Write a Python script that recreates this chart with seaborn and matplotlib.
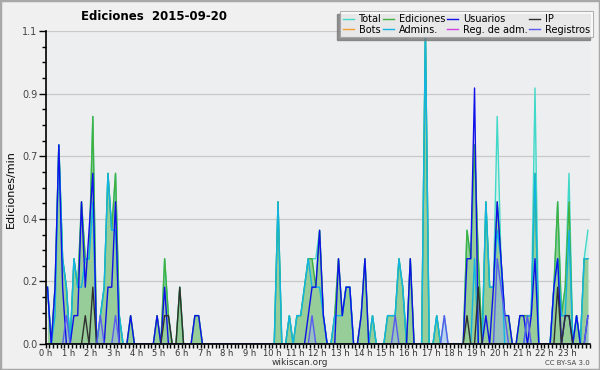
import numpy as np
import pandas as pd
import matplotlib
matplotlib.use('Agg')
import matplotlib.pyplot as plt
from matplotlib.ticker import MultipleLocator, FixedLocator
from matplotlib.patches import Rectangle
from matplotlib.lines import Line2D
import seaborn as sns

# edits per minute, one value per 10-minute slot (6 per hour), 4 hours per line
total = [
    0.2, 0, 0.2, 0.7, 0.3, 0.2, 0, 0.3, 0.2, 0.5, 0.3, 0.3, 0.8, 0, 0.1, 0.2, 0.6, 0.4, 0.6, 0.1, 0, 0, 0.1, 0,
    0, 0, 0, 0, 0, 0.1, 0, 0.3, 0.1, 0, 0, 0.2, 0, 0, 0, 0.1, 0.1, 0, 0, 0, 0, 0, 0, 0,
    0, 0, 0, 0, 0, 0, 0, 0, 0, 0, 0, 0, 0, 0.5, 0, 0, 0.1, 0, 0.1, 0.1, 0.2, 0.3, 0.3, 0.3,
    0.4, 0.1, 0, 0, 0.1, 0.3, 0.1, 0.2, 0.2, 0, 0, 0.1, 0.3, 0, 0.1, 0, 0, 0, 0.1, 0.1, 0.1, 0.3, 0.2, 0,
    0.3, 0, 0, 0, 1.1, 0, 0, 0.1, 0, 0.1, 0, 0, 0, 0, 0, 0.4, 0.3, 0.7, 0.3, 0, 0.5, 0.2, 0.2, 0.8,
    0.3, 0.1, 0.1, 0, 0, 0.1, 0.1, 0.1, 0.1, 0.9, 0, 0, 0, 0, 0.2, 0.5, 0.1, 0.2, 0.6, 0, 0.1, 0, 0.3, 0.4,
]
ediciones = [
    0.2, 0, 0.2, 0.7, 0.3, 0.2, 0, 0.3, 0.2, 0.5, 0.3, 0.3, 0.8, 0, 0.1, 0.2, 0.6, 0.4, 0.6, 0.1, 0, 0, 0.1, 0,
    0, 0, 0, 0, 0, 0.1, 0, 0.3, 0.1, 0, 0, 0.2, 0, 0, 0, 0.1, 0.1, 0, 0, 0, 0, 0, 0, 0,
    0, 0, 0, 0, 0, 0, 0, 0, 0, 0, 0, 0, 0, 0.5, 0, 0, 0.1, 0, 0.1, 0.1, 0.2, 0.3, 0.3, 0.2,
    0.4, 0.1, 0, 0, 0.1, 0.3, 0.1, 0.2, 0.2, 0, 0, 0.1, 0.3, 0, 0.1, 0, 0, 0, 0.1, 0.1, 0.1, 0.3, 0.2, 0,
    0.3, 0, 0, 0, 1.1, 0, 0, 0.1, 0, 0, 0, 0, 0, 0, 0, 0.4, 0.3, 0.7, 0.3, 0, 0.5, 0.2, 0.2, 0.5,
    0.3, 0.1, 0.1, 0, 0, 0.1, 0.1, 0.1, 0.1, 0.6, 0, 0, 0, 0, 0.2, 0.5, 0.1, 0.2, 0.5, 0, 0.1, 0, 0.3, 0.3,
]
usuarios = [
    0.2, 0, 0.2, 0.7, 0.2, 0, 0, 0.1, 0.1, 0.5, 0.2, 0.4, 0.6, 0, 0, 0, 0.2, 0.2, 0.5, 0, 0, 0, 0.1, 0,
    0, 0, 0, 0, 0, 0.1, 0, 0.2, 0, 0, 0, 0, 0, 0, 0, 0.1, 0.1, 0, 0, 0, 0, 0, 0, 0,
    0, 0, 0, 0, 0, 0, 0, 0, 0, 0, 0, 0, 0, 0, 0, 0, 0, 0, 0, 0, 0, 0.1, 0.2, 0.2,
    0.4, 0.1, 0, 0, 0, 0.3, 0.1, 0.2, 0.2, 0, 0, 0.1, 0.3, 0, 0, 0, 0, 0, 0, 0, 0, 0, 0, 0,
    0.3, 0, 0, 0, 0, 0, 0, 0, 0, 0, 0, 0, 0, 0, 0, 0.3, 0.3, 0.9, 0, 0, 0.1, 0, 0.2, 0.5,
    0.3, 0.1, 0.1, 0, 0, 0.1, 0.1, 0, 0.1, 0.3, 0, 0, 0, 0, 0.2, 0.3, 0, 0.1, 0.1, 0, 0.1, 0, 0, 0.1,
]
ip = [
    0, 0, 0, 0, 0, 0, 0, 0, 0, 0, 0.1, 0, 0.2, 0, 0, 0, 0, 0, 0, 0, 0, 0, 0, 0,
    0, 0, 0, 0, 0, 0, 0, 0.1, 0.1, 0, 0, 0.2, 0, 0, 0, 0, 0, 0, 0, 0, 0, 0, 0, 0,
    0, 0, 0, 0, 0, 0, 0, 0, 0, 0, 0, 0, 0, 0, 0, 0, 0, 0, 0, 0, 0, 0, 0, 0,
    0, 0, 0, 0, 0, 0, 0, 0, 0, 0, 0, 0, 0, 0, 0, 0, 0, 0, 0, 0, 0, 0, 0, 0,
    0, 0, 0, 0, 0, 0, 0, 0, 0, 0, 0, 0, 0, 0, 0, 0.1, 0, 0, 0.2, 0, 0, 0, 0, 0,
    0, 0, 0, 0, 0, 0, 0, 0, 0, 0, 0, 0, 0, 0, 0, 0.2, 0, 0.1, 0.1, 0, 0, 0, 0, 0,
]
admins = [
    0.2, 0, 0.1, 0.7, 0.3, 0.2, 0, 0.3, 0.2, 0.2, 0.3, 0.3, 0.5, 0, 0.1, 0.2, 0.6, 0.4, 0.4, 0.1, 0, 0, 0, 0,
    0, 0, 0, 0, 0, 0, 0, 0, 0, 0, 0, 0, 0, 0, 0, 0, 0, 0, 0, 0, 0, 0, 0, 0,
    0, 0, 0, 0, 0, 0, 0, 0, 0, 0, 0, 0, 0, 0.5, 0, 0, 0.1, 0, 0.1, 0.1, 0.2, 0.3, 0.2, 0.2,
    0.2, 0.1, 0, 0, 0.1, 0.1, 0.1, 0.2, 0.2, 0, 0, 0, 0, 0, 0.1, 0, 0, 0, 0.1, 0.1, 0.1, 0.3, 0.2, 0,
    0, 0, 0, 0, 1.1, 0, 0, 0.1, 0, 0, 0, 0, 0, 0, 0, 0, 0, 0.3, 0, 0, 0.5, 0.2, 0.2, 0.4,
    0.3, 0, 0, 0, 0, 0, 0, 0.1, 0.1, 0.6, 0, 0, 0, 0, 0.2, 0.3, 0.1, 0.1, 0.4, 0, 0.1, 0, 0.3, 0.3,
]
registros = [
    0, 0, 0, 0, 0, 0.1, 0, 0, 0, 0, 0, 0, 0, 0, 0.1, 0, 0, 0, 0.1, 0, 0, 0, 0, 0,
    0, 0, 0, 0, 0, 0, 0, 0, 0, 0, 0, 0, 0, 0, 0, 0, 0, 0, 0, 0, 0, 0, 0, 0,
    0, 0, 0, 0, 0, 0, 0, 0, 0, 0, 0, 0, 0, 0, 0, 0, 0, 0, 0, 0, 0, 0, 0.1, 0,
    0, 0, 0, 0, 0, 0, 0, 0, 0, 0, 0, 0, 0, 0, 0, 0, 0, 0, 0, 0, 0.1, 0, 0, 0,
    0, 0, 0, 0, 0, 0, 0, 0, 0, 0.1, 0, 0, 0, 0, 0, 0, 0, 0, 0, 0, 0, 0, 0, 0.3,
    0.2, 0.1, 0, 0, 0, 0, 0, 0.1, 0, 0, 0, 0, 0, 0, 0, 0, 0, 0, 0, 0, 0, 0, 0, 0.1,
]

hour_labels = [f"{h} h" for h in range(24)]
y_ticks = [0, 0.22, 0.44, 0.66, 0.88, 1.1]

colors = {
    'Total': '#40d8c8',
    'Ediciones': '#40b040',
    'Usuarios': '#1010ea',
    'IP': '#303030',
    'Bots': '#f0a030',
    'Admins.': '#12b4e4',
    'Reg. de adm.': '#d040e0',
    'Registros': '#5a5af0',
}

# slot centre, in hours
hours = (np.arange(len(total)) + 0.5) / 6

df = pd.DataFrame({'hora': hours, 'Total': total, 'Ediciones': ediciones,
                   'Usuarios': usuarios, 'IP': ip, 'Admins.': admins,
                   'Registros': registros})
long_df = df.melt(id_vars='hora', var_name='serie', value_name='valor')

plt.rcParams['font.family'] = ['DejaVu Sans']

fig = plt.figure(figsize=(6, 3.7), dpi=100, facecolor='#f0f0f0')
fig.patches.append(Rectangle((0, 0), 1, 1, transform=fig.transFigure,
                             fill=False, edgecolor='#a8a8a8', lw=2.5))
ax = fig.add_axes([0.076, 0.07, 0.907, 0.846])
ax.set_facecolor('#edeef0')

ax.fill_between(df['hora'], df['Total'], color='#d4f0ea', lw=0)
ax.fill_between(df['hora'], df['Ediciones'], color='#96cd98', lw=0)
ax.fill_between(df['hora'], df['Registros'], color='#9ab4f0', alpha=0.45, lw=0)

order = ['Total', 'Ediciones', 'Admins.', 'Usuarios', 'IP', 'Registros']
sns.lineplot(data=long_df, x='hora', y='valor', hue='serie', hue_order=order,
             palette=colors, lw=1.0, legend=False, ax=ax)

ax.set_xlim(0, 24)
ax.set_ylim(0, 1.1)
ax.xaxis.set_major_locator(FixedLocator(range(24)))
ax.set_xticklabels(hour_labels)
ax.xaxis.set_minor_locator(MultipleLocator(1 / 6))
ax.yaxis.set_major_locator(FixedLocator(y_ticks))
ax.set_yticklabels([f"{v:.1f}" for v in y_ticks])
ax.yaxis.set_minor_locator(MultipleLocator(0.055))
ax.tick_params(axis='x', which='both', length=3, width=1, direction='out',
               labelsize=6, colors='black', labelcolor='#333333', pad=0.5)
ax.tick_params(axis='y', which='major', length=5, width=1, labelsize=7,
               labelcolor='#444444', pad=1)
ax.tick_params(axis='y', which='minor', length=3, width=1)
ax.grid(axis='y', color='#c8c8c8', lw=0.9)
ax.set_axisbelow(True)
for side in ['top', 'right']:
    ax.spines[side].set_visible(False)
for side in ['left', 'bottom']:
    ax.spines[side].set_linewidth(1.2)
    ax.spines[side].set_color('black')
ax.set_xlabel('')
ax.set_ylabel('')

fig.text(0.257, 0.956, 'Ediciones  2015-09-20', ha='center', va='center',
         fontsize=8.5, fontweight='bold')
fig.text(0.018, 0.49, 'Ediciones/min', rotation=90, ha='center', va='center',
         fontsize=8)
fig.text(0.5, 0.02, 'wikiscan.org', ha='center', va='center', fontsize=6.5,
         color='#333333')
fig.text(0.983, 0.02, 'CC BY-SA 3.0', ha='right', va='center', fontsize=5,
         color='#444444')

# legend reads row by row: Total, Ediciones, Usuarios, IP / Bots, Admins., ...
leg_order = ['Total', 'Bots', 'Ediciones', 'Admins.', 'Usuarios',
             'Reg. de adm.', 'IP', 'Registros']
leg_kw = dict(ncol=4, loc='upper right', fontsize=7, frameon=True,
              fancybox=False, handlelength=1.1, handletextpad=0.5,
              columnspacing=0.2, labelspacing=0.05, borderpad=0.3,
              borderaxespad=0)
anchor = (0.988, 0.97)

# flat shadow: same legend, blank, shifted 3 px left and down
blank = [Line2D([], [], color='none') for k in leg_order]
shadow = fig.legend(blank, leg_order, bbox_to_anchor=(anchor[0] - 3 / 600, anchor[1] - 3 / 370),
                    **leg_kw)
for t in shadow.get_texts():
    t.set_alpha(0)
shadow.get_frame().set_facecolor('#7a7a7a')
shadow.get_frame().set_edgecolor('#7a7a7a')

handles = [Line2D([], [], color=colors[k], lw=1.0) for k in leg_order]
leg = fig.legend(handles, leg_order, bbox_to_anchor=anchor, **leg_kw)
leg.get_frame().set_edgecolor('#a0a0a0')
leg.get_frame().set_facecolor('white')
leg.get_frame().set_linewidth(0.8)

fig.savefig('out.png', dpi=100, facecolor=fig.get_facecolor())
